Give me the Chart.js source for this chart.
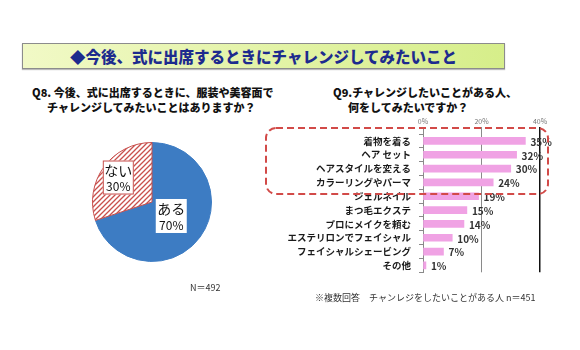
<!DOCTYPE html>
<html>
<head>
<meta charset="utf-8">
<script src="https://cdn.jsdelivr.net/npm/chart.js@4"></script>
<style>
  body { margin: 0; width: 580px; height: 350px; background: #fff; position: relative; overflow: hidden;
         font-family: "Noto Sans CJK JP", "Noto Sans", sans-serif; }
  .abs { position: absolute; white-space: nowrap; }
  #banner { left: 22px; top: 43px; width: 481px; height: 24px; border: 1px solid #8c8c8c;
            background: linear-gradient(to right, #f1f9c6, #d6ee8a); box-shadow: 0 1px 1px #bbb;
            color: #1d2b8e; font-weight: 900; font-size: 15.5px; line-height: 24px; text-align: center; }
  .qtitle { font-weight: 900; font-size: 11px; color: #111; line-height: 14px; }
  .note { font-size: 9px; color: #333; }
</style>
</head>
<body>
<div id="banner" class="abs">◆今後、式に出席するときにチャレンジしてみたいこと</div>

<div class="abs qtitle" style="left:32px; top:85px;">Q8. 今後、式に出席するときに、服装や美容面で</div>
<div class="abs qtitle" style="left:47px; top:100px;">チャレンジしてみたいことはありますか？</div>

<div class="abs qtitle" style="left:333px; top:85px;">Q9.チャレンジしたいことがある人、</div>
<div class="abs qtitle" style="left:348px; top:100px;">何をしてみたいですか？</div>

<div class="abs" style="left:90px; top:140px; width:124px; height:124px;"><canvas id="pie"></canvas></div>
<div class="abs" style="left:280px; top:100px; width:290px; height:186px;"><canvas id="bar"></canvas></div>

<svg class="abs" style="left:0; top:0;" width="580" height="350">
  <rect x="266" y="128" width="282" height="66" rx="10" ry="10" fill="none"
        stroke="#d24a48" stroke-width="2" stroke-dasharray="7 4"/>
</svg>

<div class="abs note" style="left:190px; top:281px;">N＝492</div>
<div class="abs note" style="left:315px; top:291px;">※複数回答　チャンレジをしたいことがある人 n＝451</div>

<script>
// Q8 pie
var pieLabels = ["ある", "ない"];
var pieValues = [70, 30];
var pieSubLabels = ["70%", "30%"];

// Q9 bars
var barLabels = ["着物を着る", "ヘア セット", "ヘアスタイルを変える", "カラーリングやパーマ", "ジェルネイル",
                 "まつ毛エクステ", "プロにメイクを頼む", "エステリロンでフェイシャル", "フェイシャルシェービング", "その他"];
var barValues = [35, 32, 30, 24, 19, 15, 14, 10, 7, 1];
var tickLabels = ["0%", "20%", "40%"];

var FONT = '"Noto Sans CJK JP", "Noto Sans", sans-serif';

// hatch pattern for the "ない" slice
function makeHatch() {
    var c = document.createElement("canvas");
    c.width = 5; c.height = 5;
    var g = c.getContext("2d");
    g.fillStyle = "#fff";
    g.fillRect(0, 0, 5, 5);
    g.strokeStyle = "#c8504d";
    g.lineWidth = 1.3;
    g.beginPath();
    g.moveTo(-1, 6); g.lineTo(6, -1);
    g.moveTo(-1, 1); g.lineTo(1, -1);
    g.moveTo(4, 6); g.lineTo(6, 4);
    g.stroke();
    return g.createPattern(c, "repeat");
}

var pieBoxes = {
    id: "pieBoxes",
    afterDatasetsDraw: function (chart) {
        var ctx = chart.ctx;
        var arcs = chart.getDatasetMeta(0).data;
        var dist = [0.4, 0.7];
        var borders = [null, "#c8504d"];
        arcs.forEach(function (arc, i) {
            var mid = (arc.startAngle + arc.endAngle) / 2;
            var cx = arc.x + Math.cos(mid) * arc.outerRadius * dist[i];
            var cy = arc.y + Math.sin(mid) * arc.outerRadius * dist[i];
            var w = 31, h = 34;
            ctx.save();
            ctx.fillStyle = "#fff";
            ctx.fillRect(cx - w / 2, cy - h / 2, w, h);
            if (borders[i]) {
                ctx.strokeStyle = borders[i];
                ctx.lineWidth = 1;
                ctx.strokeRect(cx - w / 2 + 0.5, cy - h / 2 + 0.5, w - 1, h - 1);
            }
            ctx.fillStyle = "#111";
            ctx.textAlign = "center";
            ctx.textBaseline = "middle";
            ctx.font = "14px " + FONT;
            ctx.fillText(pieLabels[i], cx, cy - 7);
            ctx.font = "12px " + FONT;
            ctx.fillText(pieSubLabels[i], cx, cy + 9);
            ctx.restore();
        });
    }
};

new Chart(document.getElementById("pie"), {
    type: "pie",
    data: {
        labels: pieLabels,
        datasets: [{
            data: pieValues,
            backgroundColor: ["#3d7cc3", makeHatch()],
            borderColor: ["#3d7cc3", "#c8504d"],
            borderWidth: 1
        }]
    },
    options: {
        responsive: true,
        maintainAspectRatio: false,
        animation: false,
        layout: { padding: 2 },
        plugins: { legend: { display: false }, tooltip: { enabled: false } }
    },
    plugins: [pieBoxes]
});

var barValueLabels = {
    id: "barValueLabels",
    afterDatasetsDraw: function (chart) {
        var ctx = chart.ctx;
        ctx.save();
        ctx.font = "bold 10px " + FONT;
        ctx.fillStyle = "#333";
        ctx.textAlign = "left";
        ctx.textBaseline = "middle";
        chart.getDatasetMeta(0).data.forEach(function (bar, i) {
            ctx.fillText(barValues[i] + "%", bar.x + 5, bar.y + 1);
        });
        ctx.restore();
    }
};

new Chart(document.getElementById("bar"), {
    type: "bar",
    data: {
        labels: barLabels,
        datasets: [{
            data: barValues,
            backgroundColor: "#f0a2e4",
            borderWidth: 0,
            barThickness: 7
        }]
    },
    options: {
        indexAxis: "y",
        responsive: true,
        maintainAspectRatio: false,
        animation: false,
        layout: { padding: { top: 0, right: 30, bottom: 1, left: 0 } },
        plugins: { legend: { display: false }, tooltip: { enabled: false } },
        scales: {
            x: {
                position: "top",
                min: 0,
                max: 40,
                afterFit: function (s) { s.height = 34; },
                ticks: {
                    stepSize: 20,
                    padding: 1,
                    color: "#777",
                    font: { size: 7, family: FONT },
                    callback: function (v, i) { return tickLabels[i]; }
                },
                grid: {
                    tickLength: 7,
                    color: function (c) { return c.tick && c.tick.value === 40 ? "#111" : "#8a8a8a"; },
                    lineWidth: function (c) { return c.tick && c.tick.value === 40 ? 1.5 : 1; }
                },
                border: { display: false }
            },
            y: {
                afterFit: function (s) { s.width = 143; },
                ticks: {
                    autoSkip: false,
                    padding: 8,
                    color: "#1a1a1a",
                    font: { size: 9.5, weight: "bold", family: FONT }
                },
                grid: { drawOnChartArea: false, tickLength: 4, color: "#8a8a8a" },
                border: { color: "#8a8a8a" }
            }
        }
    },
    plugins: [barValueLabels]
});
</script>
</body>
</html>
